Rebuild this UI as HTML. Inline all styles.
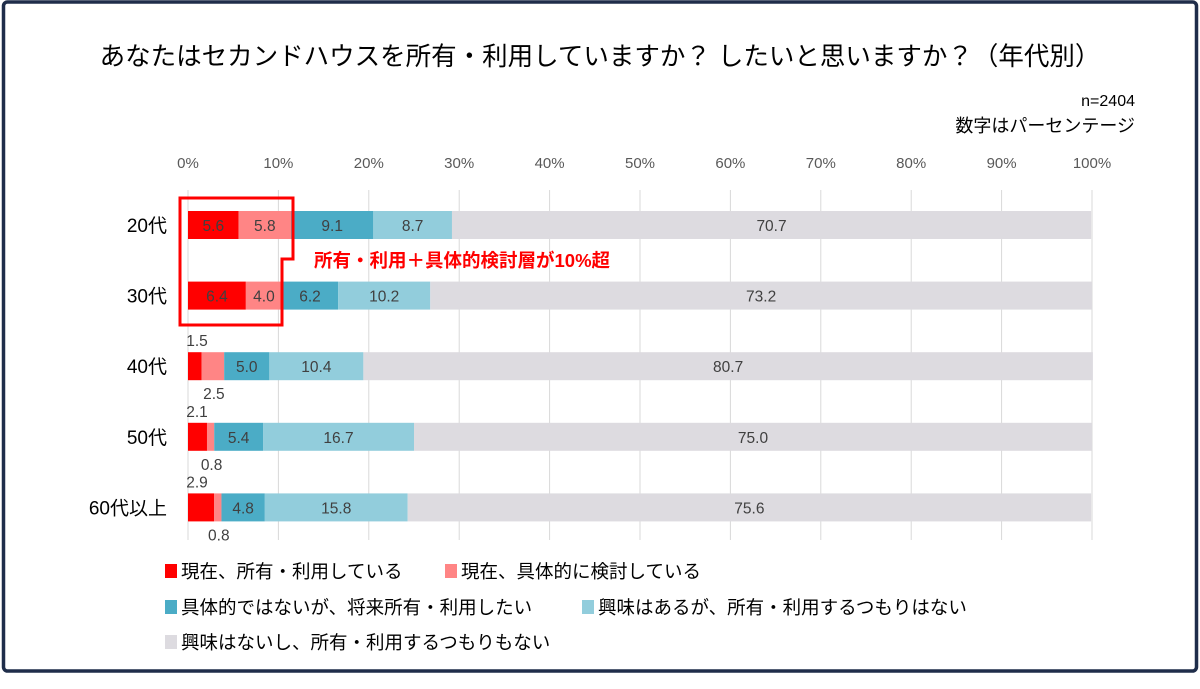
<!DOCTYPE html>
<html><head><meta charset="utf-8">
<style>
body{margin:0;width:1200px;height:684px;background:#fff;overflow:hidden;font-family:"Liberation Sans","Noto Sans CJK JP",sans-serif;}
svg text{font-family:"Liberation Sans","Noto Sans CJK JP",sans-serif;}
</style></head>
<body>
<svg id="chart" width="1200" height="684">
<rect x="3.5" y="2" width="1193" height="669" rx="4" fill="#fff" stroke="#1f2d4a" stroke-width="3.5"/>
<text x="600" y="65" font-size="25.5" text-anchor="middle" fill="#000">あなたはセカンドハウスを所有・利用していますか？ したいと思いますか？（年代別）</text>
<text x="1135" y="106" font-size="16" text-anchor="end" fill="#000">n=2404</text>
<text x="1135" y="132" font-size="18" text-anchor="end" fill="#000">数字はパーセンテージ</text>
<g id="grid"></g>
<g id="bars"></g>
<path d="M180,198 L293,198 L293,259 L282,259 L282,325 L180,325 Z" fill="none" stroke="#ff0000" stroke-width="3"/>
<text x="314" y="267" font-size="18.5" font-weight="bold" fill="#ff0000">所有・利用＋具体的検討層が10%超</text>
<g id="legend"></g>
</svg>
<script>
const categories=["20代","30代","40代","50代","60代以上"];
const seriesNames=["現在、所有・利用している","現在、具体的に検討している","具体的ではないが、将来所有・利用したい","興味はあるが、所有・利用するつもりはない","興味はないし、所有・利用するつもりもない"];
const s1=[5.6,6.4,1.5,2.1,2.9];
const s2=[5.8,4.0,2.5,0.8,0.8];
const s3=[9.1,6.2,5.0,5.4,4.8];
const s4=[8.7,10.2,10.4,16.7,15.8];
const s5=[70.7,73.2,80.7,75.0,75.6];
const ticks=[0,10,20,30,40,50,60,70,80,90,100];
const colors=["#ff0000","#ff8585","#4bacc6","#92cddc","#dddbe0"];
const NS="http://www.w3.org/2000/svg";
const x=v=>188+v*9.04;
const y=i=>211+i*70.6;
const bh=28;
function mk(t,a,p){const e=document.createElementNS(NS,t);for(const k in a)e.setAttribute(k,a[k]);p.appendChild(e);return e;}
const grid=document.getElementById('grid');
ticks.forEach(t=>{
 const l=mk('line',{x1:x(t),x2:x(t),y1:190,y2:540,stroke:'#d9d9d9','stroke-width':1},grid);
 
 
 const tx=mk('text',{x:x(t),y:168,'font-size':15,'text-anchor':'middle',fill:'#595959'},grid);
 tx.textContent=t+'%';
 
 
});
const bars=document.getElementById('bars');
const series=[s1,s2,s3,s4,s5];
categories.forEach((c,i)=>{
 const lb=mk('text',{x:167,y:y(i)+bh/2+7,'font-size':19,'text-anchor':'end',fill:'#000'},bars);
 lb.textContent=c;
 
 
 let acc=0;
 series.forEach((s,k)=>{
  const v=s[i];
  const r=mk('rect',{x:x(acc),y:y(i),width:x(acc+v)-x(acc),height:bh,fill:colors[k]},bars);
  
  
  const small=v<3;
  let ty=y(i)+bh/2+6, tx=x(acc+v/2);
  if(small){ if(k===0){ty=y(i)-6;tx=x(acc)+9;} else {ty=y(i)+bh+19;tx=x(acc+v/2)+1;} }
  const t=mk('text',{x:tx,y:ty,'font-size':15.5,'text-anchor':'middle',fill:'#404040'},bars);
  t.textContent=v.toFixed(1);
  
  
  acc+=v;
 });
});
const lg=document.getElementById('legend');
const lpos=[[165,572],[445,572],[165,608],[582,608],[165,643]];
seriesNames.forEach((n,k)=>{
 const r=mk('rect',{x:lpos[k][0],y:lpos[k][1]-8,width:12,height:14,fill:colors[k]},lg);
 
 
 const t=mk('text',{x:lpos[k][0]+16,y:lpos[k][1]+6,'font-size':18.5,fill:'#000'},lg);
 t.textContent=n;
 
 
});
</script>
</body></html>
